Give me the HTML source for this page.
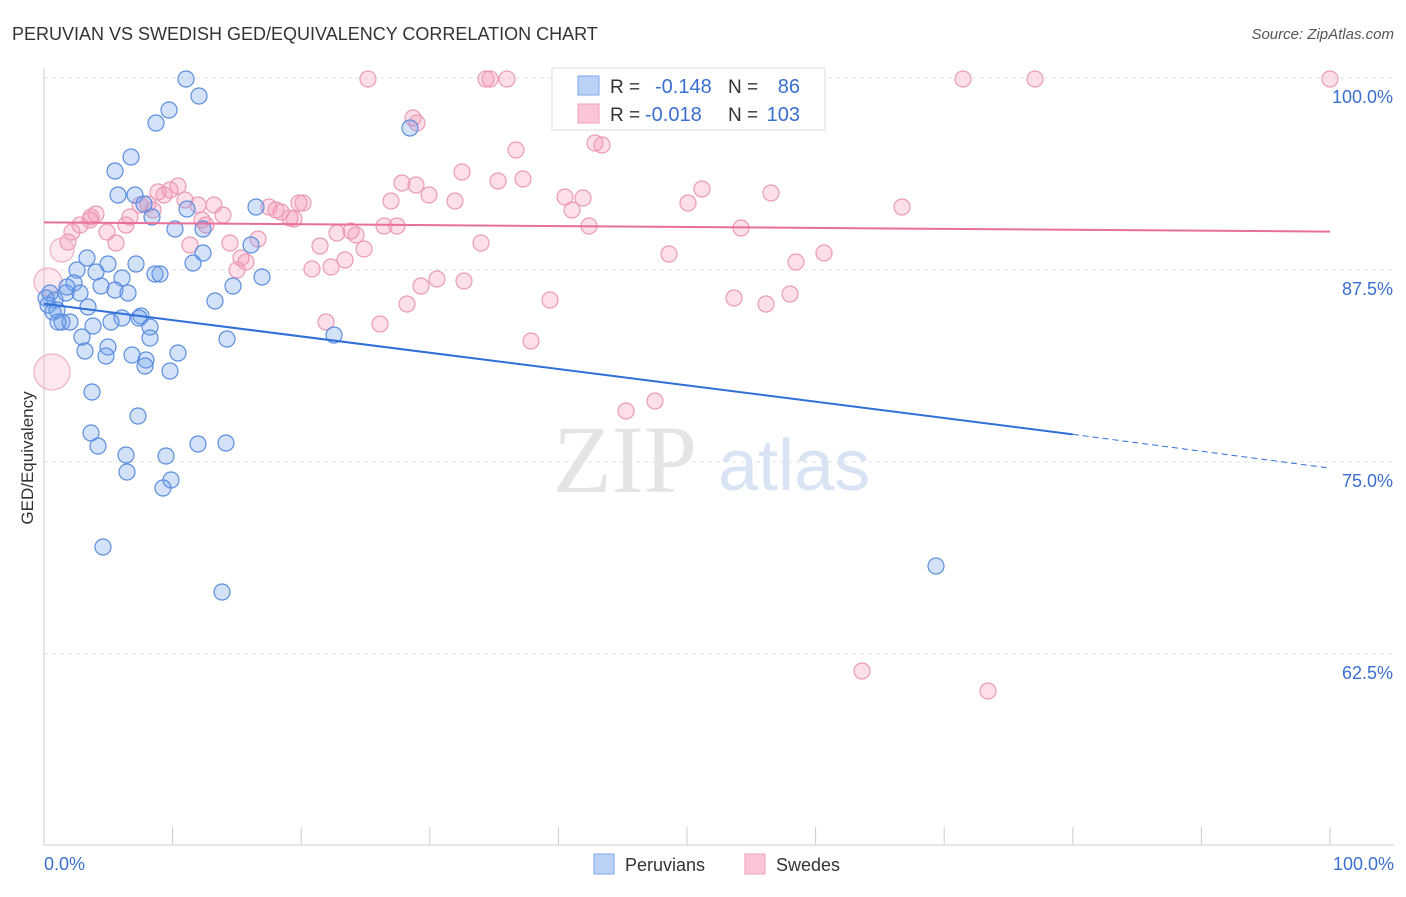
<!DOCTYPE html>
<html><head><meta charset="utf-8"><style>
body{margin:0;background:#fff;font-family:"Liberation Sans",sans-serif;}
svg text{font-family:"Liberation Sans",sans-serif;}
</style></head><body>
<svg id="c" width="1406" height="892">
<text x="12" y="40" font-size="18" fill="#333">PERUVIAN VS SWEDISH GED/EQUIVALENCY CORRELATION CHART</text>
<text x="1394" y="39" font-size="15" fill="#555" text-anchor="end" font-style="italic">Source: ZipAtlas.com</text>
<text x="33" y="458" font-size="17" fill="#333" text-anchor="middle" transform="rotate(-90 33 458)">GED/Equivalency</text>
<g id="grid"></g>
<text x="553" y="492" font-size="96" fill="#e4e4e4" style="font-family:'Liberation Serif',serif">ZIP</text>
<text x="718" y="490" font-size="72" fill="#d8e4f4">atlas</text>
<g id="pts"></g>
<g id="lines"></g>
<g>
<rect x="552" y="68" width="273" height="62" fill="#fff" stroke="#ddd"/>
<rect x="578" y="76" width="21" height="19" fill="#b9d2f6" stroke="#7ea8e8"/>
<rect x="578" y="104" width="21" height="19" fill="#fbc6d6" stroke="#eea0b8"/>
<text x="610" y="93" font-size="19" fill="#333">R =</text>
<text x="655" y="93" font-size="20" fill="#3a6fd0">-0.148</text>
<text x="728" y="93" font-size="19" fill="#333">N =</text>
<text x="800" y="93" font-size="20" fill="#3a6fd0" text-anchor="end">86</text>
<text x="610" y="121" font-size="19" fill="#333">R =</text>
<text x="645" y="121" font-size="20" fill="#3a6fd0">-0.018</text>
<text x="728" y="121" font-size="19" fill="#333">N =</text>
<text x="800" y="121" font-size="20" fill="#3a6fd0" text-anchor="end">103</text>
</g>
<g>
<rect x="594" y="854" width="20" height="20" fill="#b9d2f6" stroke="#7ea8e8"/>
<text x="625" y="871" font-size="18" fill="#333">Peruvians</text>
<rect x="745" y="854" width="20" height="20" fill="#fbc6d6" stroke="#eea0b8"/>
<text x="776" y="871" font-size="18" fill="#333">Swedes</text>
</g>
</svg>
<script>
const yTicks=[100,87.5,75,62.5];
const yTickLabels=["100.0%","87.5%","75.0%","62.5%"];
const xTickLabels=["0.0%","100.0%"];
const bluePx=[[186,79],[199,96],[169,110],[156,123],[410,128],[131,157],[115,171],[118,195],[135,195],[144,204],[187,209],[256,207],[152,217],[175,229],[203,229],[87,258],[108,264],[136,264],[77,270],[96,272],[122,278],[193,263],[203,253],[262,277],[155,274],[160,274],[233,286],[74,283],[101,286],[115,290],[128,293],[66,293],[80,293],[50,293],[55,300],[48,305],[88,307],[53,312],[215,301],[141,316],[139,318],[122,318],[111,322],[62,322],[70,322],[58,322],[93,326],[150,327],[82,337],[150,338],[227,339],[334,335],[108,347],[85,351],[132,355],[106,356],[178,353],[146,360],[145,366],[170,371],[92,392],[138,416],[91,433],[98,446],[126,455],[198,444],[226,443],[166,456],[127,472],[171,480],[163,488],[103,547],[222,592],[936,566],[251,245],[67,287],[46,298],[57,310]];
const pinkPx=[[368,79],[486,79],[490,79],[507,79],[575,79],[645,79],[689,79],[963,79],[1035,79],[1330,79],[413,118],[417,123],[516,150],[595,143],[602,145],[462,172],[498,181],[523,179],[402,183],[416,185],[429,195],[455,201],[391,201],[565,197],[583,198],[572,210],[702,189],[688,203],[771,193],[902,207],[178,186],[158,192],[170,190],[164,195],[140,205],[148,204],[153,210],[185,200],[198,205],[214,205],[223,215],[202,220],[206,225],[130,217],[126,225],[107,232],[96,214],[90,220],[80,225],[72,232],[68,242],[116,243],[190,245],[230,243],[258,239],[269,207],[281,212],[276,210],[290,218],[299,203],[303,203],[294,219],[320,246],[337,233],[351,231],[356,235],[364,249],[384,226],[397,226],[345,260],[331,267],[312,269],[237,270],[241,258],[246,262],[421,286],[437,279],[464,281],[481,243],[407,304],[550,300],[589,226],[669,254],[741,228],[796,262],[824,253],[734,298],[766,304],[790,294],[326,322],[380,324],[531,341],[626,411],[655,401],[862,671],[988,691],[91,217]];
const pinkBig=[[52,372,18],[48,282,14],[62,250,12]];
const toX=p=>(p-44)/12.86, toY=p=>100-(p-78)/15.36;
const blueX=bluePx.map(p=>toX(p[0])), blueY=bluePx.map(p=>toY(p[1]));
const pinkX=pinkPx.map(p=>toX(p[0])), pinkY=pinkPx.map(p=>toY(p[1]));
const blueTrend=[85.3,76.8,74.6], pinkTrend=[90.6,90.0];
const X=v=>44+v*12.86, Y=v=>78+(100-v)*15.36;
const NS="http://www.w3.org/2000/svg";
function mk(t,a,parent){const e=document.createElementNS(NS,t);for(const k in a)e.setAttribute(k,a[k]);parent.appendChild(e);return e;}
const svg=document.getElementById('c'),grid=document.getElementById('grid'),pts=document.getElementById('pts'),lines=document.getElementById('lines');
yTicks.forEach((t,i)=>{
 const l=mk('line',{x1:44,x2:1394,y1:Y(t),y2:Y(t),stroke:'#e2e2e2','stroke-dasharray':'4 4'},grid);
 
 
 const tx=mk('text',{x:1393,y:Y(t)+25,'font-size':18,fill:'#3a6fd0','text-anchor':'end'},svg);
 tx.textContent=yTickLabels[i];
 
 
});
const ax=mk('line',{x1:44,x2:44,y1:68,y2:845,stroke:'#ccc'},grid);


const bx=mk('line',{x1:44,x2:1394,y1:845,y2:845,stroke:'#ccc'},grid);


for(let i=0;i<=10;i++){const t=mk('line',{x1:X(i*10),x2:X(i*10),y1:827,y2:845,stroke:'#ccc'},grid);
 
 }
[[0,'start',44],[100,'end',1394]].forEach((o,i)=>{const t=mk('text',{x:o[2],y:870,'font-size':18,fill:'#3a6fd0','text-anchor':o[1]},svg);t.textContent=xTickLabels[i];
 
 });
pinkX.forEach((x,i)=>{const c=mk('circle',{cx:X(x),cy:Y(pinkY[i]),r:8,fill:'rgba(244,150,180,0.3)',stroke:'#eb9bb5','stroke-width':1.2},pts);
 
 });
pinkBig.forEach(p=>{const c=mk('circle',{cx:X(toX(p[0])),cy:Y(toY(p[1])),r:p[2],fill:'rgba(244,150,180,0.22)',stroke:'#f0b0c4','stroke-width':1.2},pts);
 
 });
blueX.forEach((x,i)=>{const c=mk('circle',{cx:X(x),cy:Y(blueY[i]),r:8,fill:'rgba(110,160,235,0.3)',stroke:'#5b8ee0','stroke-width':1.2},pts);
 
 });
const b1=mk('line',{x1:X(0),y1:Y(blueTrend[0]),x2:X(80),y2:Y(blueTrend[1]),stroke:'#2f6fd8','stroke-width':2},lines);


const b2=mk('line',{x1:X(80),y1:Y(blueTrend[1]),x2:X(100),y2:Y(blueTrend[2]),stroke:'#2f6fd8','stroke-width':1,'stroke-dasharray':'6 4'},lines);


const p1=mk('line',{x1:X(0),y1:Y(pinkTrend[0]),x2:X(100),y2:Y(pinkTrend[1]),stroke:'#e86f98','stroke-width':2},lines);


</script>
</body></html>
